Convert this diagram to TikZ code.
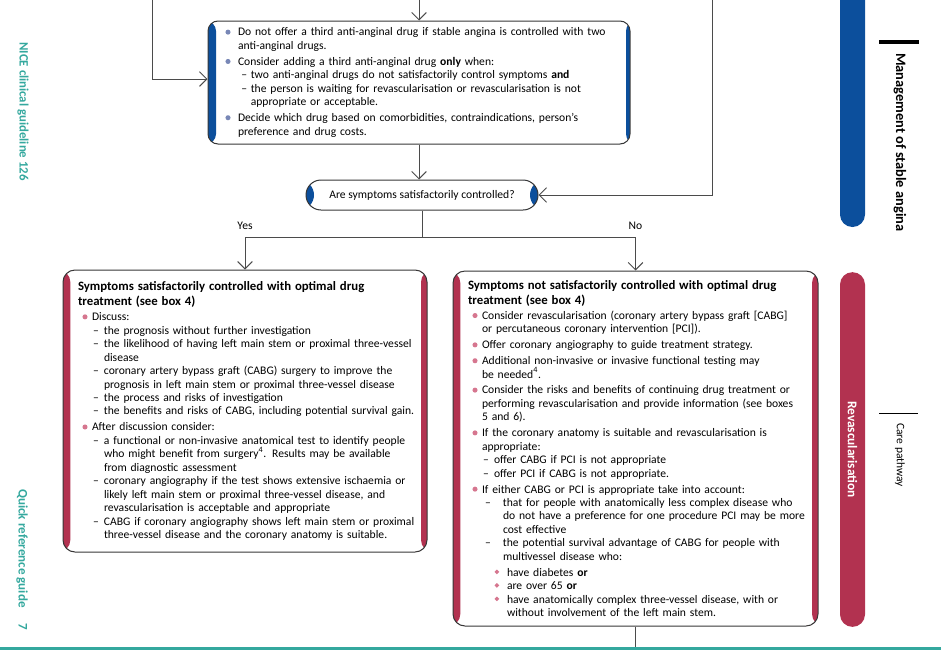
\documentclass[tikz,border=0pt]{standalone}
\usepackage{fontspec}
\setmainfont{Carlito}
\usetikzlibrary{arrows.meta,positioning}

\definecolor{niceblue}{RGB}{12,79,156}
\definecolor{nicered}{RGB}{178,50,80}
\definecolor{bulletblue}{RGB}{120,135,182}
\definecolor{bulletpink}{RGB}{214,118,143}
\definecolor{niceteal}{RGB}{52,168,158}
\definecolor{linegray}{RGB}{75,75,75}
\definecolor{boxline}{RGB}{55,55,55}

% list lines: symbol start, text start, symbol, text
\newcommand{\itemline}[4]{\mbox{\hspace*{#1}\makebox[\dimexpr#2-#1\relax][l]{#3}#4}}
\newcommand{\contline}[2]{\mbox{\hspace*{#1}#2}}
\newcommand{\bluedot}{\tikz[baseline=-2.9pt]\fill[bulletblue] (0,0) circle (1.9pt);}
\newcommand{\pinkdot}{\tikz[baseline=-2.9pt]\fill[bulletpink] (0,0) circle (1.9pt);}
\newcommand{\pinkdiamond}{\textcolor{bulletpink}{\raisebox{0.35ex}{\rotatebox{45}{\rule{2.5pt}{2.5pt}}}}}
% top box
\newcommand{\tb}[1]{\itemline{0pt}{9.4pt}{\bluedot}{#1}}
\newcommand{\tc}[1]{\contline{9.4pt}{#1}}
\newcommand{\td}[1]{\itemline{12pt}{19pt}{\textendash}{#1}}
\newcommand{\tdc}[1]{\contline{19pt}{#1}}
% red boxes
\newcommand{\rb}[1]{\itemline{3.35pt}{10.5pt}{\pinkdot}{#1}}
\newcommand{\rc}[1]{\contline{10.5pt}{#1}}
\newcommand{\rd}[1]{\itemline{11.25pt}{19.5pt}{\textendash}{#1}}
\newcommand{\rdc}[1]{\contline{19.5pt}{#1}}
\newcommand{\rw}[1]{\itemline{12.75pt}{26.25pt}{\textendash}{#1}}
\newcommand{\rwc}[1]{\contline{26.25pt}{#1}}
\newcommand{\rk}[1]{\itemline{19.9pt}{29.25pt}{\pinkdiamond}{#1}}
\newcommand{\rkc}[1]{\contline{29.25pt}{#1}}
\newcommand{\boxtitle}{\fontsize{9.6}{11}\selectfont\bfseries}

\begin{document}
\begin{tikzpicture}[x=0.75pt,y=-0.75pt,font=\fontsize{8.7}{10.1}\selectfont,
  flow/.style={draw=linegray,line width=0.75pt,-{Straight Barb[length=5.5pt,width=11pt]}},
  plain/.style={draw=linegray,line width=0.75pt},
  bands/.style n args={3}{path picture={
    \fill[#1] (path picture bounding box.north west) rectangle ([xshift=#2]path picture bounding box.south west);
    \fill[#1] ([xshift=-#3]path picture bounding box.north east) rectangle (path picture bounding box.south east);}},
  flowbox/.style={draw=boxline,fill=white,line width=0.75pt,align=left,inner ysep=0pt},
  sidetab/.style={rotate=-90,rounded corners=9.3pt,minimum height=18.75pt,inner sep=0pt}]
  \useasboundingbox (0,0) rectangle (941,650);

  % page furniture
  \fill[niceblue,rounded corners=9.3pt] (840,-30) rectangle (865,227);
  \node[sidetab,fill=nicered,minimum width=266pt,text=white,font=\fontsize{10}{12}\selectfont\bfseries] (revtab) at (852.5,449.5) {Revascularisation};
  \draw[line width=2.3pt] (879,42) -- (919,42);
  \node[rotate=-90,anchor=west,inner sep=0pt,font=\fontsize{10.8}{12}\selectfont\bfseries] (section) at (900,53) {Management of stable angina};
  \draw[line width=0.7pt] (879,413) -- (918,413);
  \node[rotate=-90,anchor=west,inner sep=0pt,font=\fontsize{8.6}{10}\selectfont] (pathway) at (900,423) {Care pathway};
  \node[rotate=-90,anchor=west,inner sep=0pt,text=niceteal,font=\fontsize{9.6}{11}\selectfont\bfseries] (guideline) at (23,42) {NICE clinical guideline 126};
  \node[rotate=-90,anchor=west,inner sep=0pt,text=niceteal,font=\fontsize{9.8}{11}\selectfont\bfseries] (qrg) at (22,489) {Quick reference guide\hspace{12pt}7};
  \fill[niceteal] (0,646.5) rectangle (941,650);

  % boxes
  \node[flowbox,bands={niceblue}{6pt}{3pt},rounded corners=7.5pt,minimum width=316.5pt,minimum height=92.25pt,
    text width=290.3pt,inner xsep=13.1pt] (thirddrug) at (419,82.5){%
    \tb{Do not offer a third anti-anginal drug if stable angina is controlled with two}\\
    \tc{anti-anginal drugs.}\\[1.8pt]
    \tb{Consider adding a third anti-anginal drug \textbf{only} when:}\\
    \td{two anti-anginal drugs do not satisfactorily control symptoms \textbf{and}}\\
    \td{the person is waiting for revascularisation or revascularisation is not}\\
    \tdc{appropriate or acceptable.}\\[1.8pt]
    \tb{Decide which drug based on comorbidities, contraindications, person’s}\\
    \tc{preference and drug costs.}};
  \node[flowbox,bands={niceblue}{6pt}{6pt},rounded corners=11.25pt,align=center,minimum width=174pt,minimum height=22.5pt] (question) at (422,195) {Are symptoms satisfactorily controlled?};
  \node[flowbox,bands={nicered}{5.5pt}{4.5pt},rounded corners=9pt,minimum width=273pt,minimum height=211.5pt,
    text width=250.5pt,inner xsep=11.25pt] (controlled) at (245,411){%
    {\boxtitle Symptoms satisfactorily controlled with optimal drug}\\[1.2pt]
    {\boxtitle treatment (see box 4)}\\[1.2pt]
    \rb{Discuss:}\\
    \rd{the prognosis without further investigation}\\
    \rd{the likelihood of having left main stem or proximal three-vessel}\\
    \rdc{disease}\\
    \rd{coronary artery bypass graft (CABG) surgery to improve the}\\
    \rdc{prognosis in left main stem or proximal three-vessel disease}\\
    \rd{the process and risks of investigation}\\
    \rd{the benefits and risks of CABG, including potential survival gain.}\\[1.8pt]
    \rb{After discussion consider:}\\
    \rd{a functional or non-invasive anatomical test to identify people}\\
    \rdc{who might benefit from surgery\textsuperscript{4}. Results may be available}\\
    \rdc{from diagnostic assessment}\\
    \rd{coronary angiography if the test shows extensive ischaemia or}\\
    \rdc{likely left main stem or proximal three-vessel disease, and}\\
    \rdc{revascularisation is acceptable and appropriate}\\
    \rd{CABG if coronary angiography shows left main stem or proximal}\\
    \rdc{three-vessel disease and the coronary anatomy is suitable.}};
  \node[flowbox,bands={nicered}{5.5pt}{4.5pt},rounded corners=9pt,minimum width=273.75pt,minimum height=266.25pt,
    text width=251.25pt,inner xsep=11.25pt] (notcontrolled) at (635.5,448.5){%
    {\boxtitle Symptoms not satisfactorily controlled with optimal drug}\\[1.2pt]
    {\boxtitle treatment (see box 4)}\\[1.2pt]
    \rb{Consider revascularisation (coronary artery bypass graft [CABG]}\\
    \rc{or percutaneous coronary intervention [PCI]).}\\[1.8pt]
    \rb{Offer coronary angiography to guide treatment strategy.}\\[1.8pt]
    \rb{Additional non-invasive or invasive functional testing may}\\
    \rc{be needed\textsuperscript{4}.}\\[1.8pt]
    \rb{Consider the risks and benefits of continuing drug treatment or}\\
    \rc{performing revascularisation and provide information (see boxes}\\
    \rc{5 and 6).}\\[1.8pt]
    \rb{If the coronary anatomy is suitable and revascularisation is}\\
    \rc{appropriate:}\\
    \rd{offer CABG if PCI is not appropriate}\\
    \rd{offer PCI if CABG is not appropriate.}\\[1.8pt]
    \rb{If either CABG or PCI is appropriate take into account:}\\
    \rw{that for people with anatomically less complex disease who}\\
    \rwc{do not have a preference for one procedure PCI may be more}\\
    \rwc{cost effective}\\
    \rw{the potential survival advantage of CABG for people with}\\
    \rwc{multivessel disease who:}\\[1.8pt]
    \rk{have diabetes \textbf{or}}\\
    \rk{are over 65 \textbf{or}}\\
    \rk{have anatomically complex three-vessel disease, with or}\\
    \rkc{without involvement of the left main stem.}};

  % connectors
  \coordinate (fromleft) at (152,0);
  \coordinate (fromtop) at (419,0);
  \coordinate (fromright) at (712,0);
  \coordinate (branch) at (422,237);
  \coordinate (onward) at (635.5,646.5);
  \draw[flow] (fromleft) |- ([yshift=2.6pt]thirddrug.west);
  \draw[flow] (fromtop) -- (thirddrug.north);
  \draw[flow] (fromright) |- (question.east);
  \draw[flow] (thirddrug.south) -- (thirddrug.south |- question.north);
  \draw[plain] (question.south) -- (branch);
  \draw[flow] (branch) -| (controlled.north) node[pos=0.5,above=1.5pt] (yes) {Yes};
  \draw[flow] (branch) -| (notcontrolled.north) node[pos=0.5,above=1.5pt] (no) {No};
  \draw[plain] (notcontrolled.south) -- (onward);
\end{tikzpicture}
\end{document}
